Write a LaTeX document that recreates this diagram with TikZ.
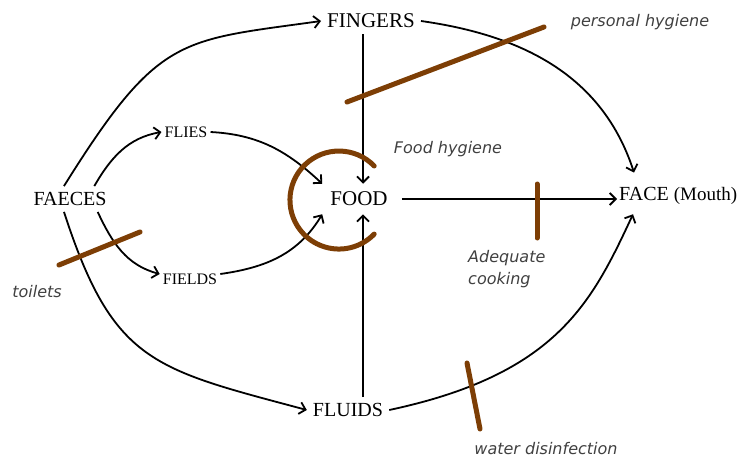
\documentclass[tikz,border=0pt]{standalone}
\usepackage{fontspec}
\setmainfont{Liberation Serif}
\newfontfamily\notefont{DejaVu Sans}
\usetikzlibrary{arrows.meta}
\definecolor{barbrown}{RGB}{125,62,5}
\definecolor{notegray}{RGB}{64,64,64}

\begin{document}
\begin{tikzpicture}[
    x=1pt, y=-1pt,
    stage/.style={inner sep=6pt, font=\fontsize{20}{24}\selectfont},
    smallstage/.style={inner sep=3pt, font=\fontsize{16}{19}\selectfont},
    note/.style={text=notegray, font=\notefont\itshape\fontsize{16}{22}\selectfont, align=left, inner sep=0pt},
    route/.style={-{Straight Barb[length=6pt, width=12pt]}, line width=1.8pt},
    barrier/.style={draw=barbrown, line width=5pt, line cap=round}
]
    \useasboundingbox (0,0) rectangle (744,460);

    % stages of the faecal-oral route
    \node[stage] (faeces) at (70,199) {FAECES};
    \node[stage, font=\fontsize{21}{25}\selectfont] (fingers) at (371,21) {FINGERS};
    \node[smallstage] (flies) at (186,132) {FLIES};
    \node[smallstage] (fields) at (190,279) {FIELDS};
    \node[stage, inner sep=8pt, font=\fontsize{21}{25}\selectfont] (food) at (359,199) {FOOD};
    \node[stage] (fluids) at (348,410) {FLUIDS};
    \node[stage, anchor=base west, inner sep=2pt] (face) at (617,200) {FACE {\fontsize{19}{22}\selectfont (Mouth)}};

    % barriers
    \node[note] (personal) at (640,22) {personal hygiene};
    \node[note] (foodhyg) at (448,149) {Food hygiene};
    \node[note] (toilets) at (37,292) {toilets};
    \node[note, anchor=north west] (cooking) at (468,250) {Adequate\\cooking};
    \node[note] (water) at (546,449) {water disinfection};

    % routes
    \draw[route] (faeces.115) to[out=58, in=188, out looseness=1.5, in looseness=1.2] (fingers.west);
    \draw[route] (faeces.28) to[out=60, in=190] (flies.west);
    \draw[route] (faeces.-25) to[out=-65, in=165] ([yshift=5pt]fields.west);
    \draw[route] (faeces.-115) to[out=-72, in=165, looseness=1.3] (fluids.west);
    \draw[route] (flies.east) to[out=-3, in=137] (food.north west);
    \draw[route] ([yshift=5pt]fields.east) to[out=8, in=-121] (food.south west);
    \draw[route] ([xshift=4pt]food.north |- fingers.south) -- ([xshift=4pt]food.north);
    \draw[route] ([xshift=4pt]food.south |- fluids.north) -- ([xshift=4pt]food.south);
    \draw[route] ([xshift=6pt]food.east) -- (food.east -| face.west);
    \draw[route] (fingers.east) to[out=-8, in=108] ([xshift=17pt, yshift=12pt]face.north west);
    \draw[route] (fluids.east) to[out=12, in=-115, out looseness=1.4, in looseness=0.8] ([xshift=16pt, yshift=-8pt]face.south west);

    % barrier strokes
    \draw[barrier] (347,102) -- (544,27);
    \draw[barrier] (374.2,166) arc[start angle=-44, end angle=-316, radius=49];
    \draw[barrier] (59,265) -- (140,232);
    \draw[barrier] (537,184) -- (537,238);
    \draw[barrier] (467,363) -- (480,429);
\end{tikzpicture}
\end{document}
